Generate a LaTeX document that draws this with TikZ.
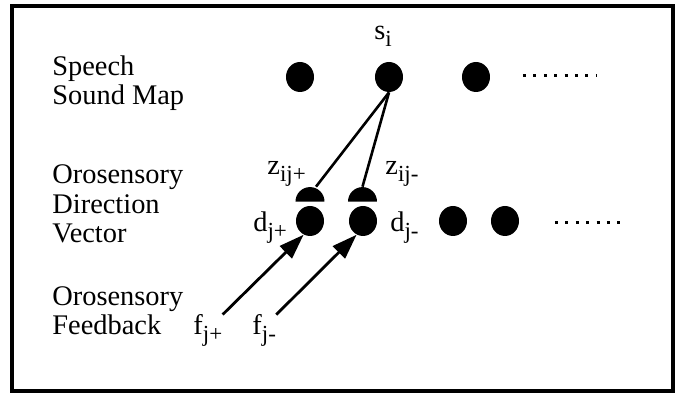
\documentclass[tikz,border=0pt]{standalone}
\usepackage{fontspec}
\setmainfont{Liberation Serif}
\usetikzlibrary{arrows.meta,shapes.geometric}
\newcommand{\idx}[2]{#1\raisebox{-3.5pt}{\fontsize{11.5}{11.5}\selectfont #2}}

\begin{document}
\begin{tikzpicture}[x=0.5pt,y=-0.5pt,
    every node/.style={font=\rmfamily\fontsize{14.2}{14.8}\selectfont},
    unit/.style={ellipse,fill=black,inner sep=0,minimum width=14pt,minimum height=15pt},
    synapse/.style={semicircle,fill=black,inner sep=0,minimum width=14.5pt,minimum height=7.25pt,anchor=chord center},
    lbl/.style={inner sep=0,anchor=base west},
    rowtext/.style={inner sep=0,anchor=base west,align=left},
    wire/.style={line width=1.3pt},
    feed/.style={line width=1.4pt,-{Triangle[length=12.5pt,width=8.5pt]}},
    more/.style={line width=1.5pt,dash pattern=on 1.5pt off 3.7pt}]
    \useasboundingbox (0,0) rectangle (677,394);
    \draw[line width=1.6pt] (12,6) rectangle (673,391);
    % layer names (base = last line)
    \node[rowtext] (ssm) at (52,105) {Speech\\Sound Map};
    \node[rowtext] (odv) at (52,243) {Orosensory\\Direction\\Vector};
    \node[rowtext] (ofb) at (52,335) {Orosensory\\Feedback};
    % speech sound map
    \node[unit] (m1) at (300,77) {};
    \node[unit] (si) at (389,77) {};
    \node[unit] (m3) at (476,77) {};
    \coordinate (ma) at (523,76);
    \coordinate (mb) at (597,76);
    \draw[more] (ma) -- (mb);
    % direction vector
    \node[unit] (dp) at (310,221) {};
    \node[unit] (dm) at (363,221) {};
    \node[unit] (d3) at (453,221) {};
    \node[unit] (d4) at (505,221) {};
    \coordinate (da) at (555,223);
    \coordinate (db) at (626,223);
    \draw[more] (da) -- (db);
    \node[synapse] (zp) at (310,202) {};
    \node[synapse] (zm) at (362.5,202) {};
    % labels
    \node[lbl] (lsi) at (374,40) {\idx{s}{i}};
    \node[lbl] (lzp) at (267,175) {\idx{z}{ij+}};
    \node[lbl] (lzm) at (385,175) {\idx{z}{ij-}};
    \node[lbl] (ldp) at (253,232) {\idx{d}{j+}};
    \node[lbl] (ldm) at (390,232) {\idx{d}{j-}};
    \node[lbl] (fp) at (193,335) {\idx{f}{j+}};
    \node[lbl] (fm) at (252,335) {\idx{f}{j-}};
    % weights and feedback
    \draw[wire] (si.south) -- ([xshift=3pt]zp.apex);
    \draw[wire] (si.south) -- (zm.apex);
    \draw[feed] (fp.north east) -- (dp.245);
    \draw[feed] (fm.north east) -- (dm.245);
\end{tikzpicture}
\end{document}
